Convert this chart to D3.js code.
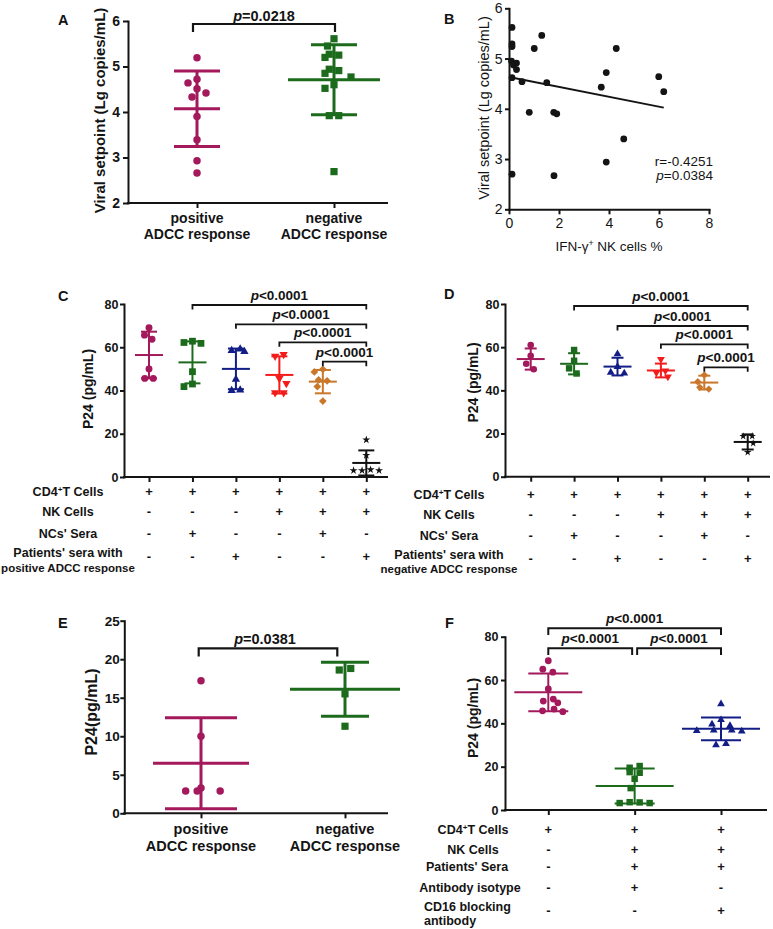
<!DOCTYPE html>
<html><head><meta charset="utf-8">
<script src="https://cdn.jsdelivr.net/npm/d3@7"></script>
<style>body{margin:0;background:#fff}</style>
</head><body>
<script>
// ================= DATA =================
// Panel A
const aCategories = ["positive", "negative"];
const aCategoryLines = [["positive", "ADCC response"], ["negative", "ADCC response"]];
const aPositive = [5.19, 4.72, 4.64, 4.51, 4.42, 4.33, 3.90, 3.39, 2.93, 2.66];
const aNegative = [5.61, 5.45, 5.27, 5.25, 5.20, 4.94, 4.91, 4.85, 4.77, 4.60, 4.52, 3.92, 3.92, 2.69];
const aMeans = [4.07, 4.71];
const aSDs = [0.83, 0.77];
const aTicks = [2, 3, 4, 5, 6];
const aPText = "=0.0218";
const aYTitle = "Viral setpoint (Lg copies/mL)";

// Panel B
const bX = [0.12, 0.12, 0.12, 0.10, 0.30, 0.18, 0.30, 0.12, 0.52, 1.31, 1.01, 1.51, 0.81, 1.79, 1.91, 0.12, 1.80, 3.69, 3.89, 4.29, 4.59, 3.89, 5.99, 6.19];
const bY = [5.62, 5.29, 5.24, 4.95, 4.91, 4.87, 4.78, 4.62, 4.54, 5.46, 5.20, 4.52, 3.93, 3.93, 3.90, 2.70, 2.67, 4.43, 4.72, 5.20, 3.40, 2.94, 4.64, 4.34];
const bXTicks = [0, 2, 4, 6, 8];
const bYTicks = [2, 3, 4, 5, 6];
const bRText = "r=-0.4251";
const bPText = "=0.0384";
const bXTitle = "IFN-γ{+} NK cells %";

// Panels C and D
const cdCategories = ["g1", "g2", "g3", "g4", "g5", "g6"];
const cValues = [
  [69.0, 65.6, 63.7, 49.9, 45.6, 45.6],
  [62.8, 62.2, 61.8, 48.7, 43.0, 41.8],
  [59.2, 58.5, 58.0, 45.2, 40.2, 40.0],
  [56.7, 55.9, 45.6, 43.3, 39.0, 39.0],
  [49.8, 48.6, 44.9, 44.5, 41.8, 35.1],
  [17.2, 10.0, 3.0, 3.0, 3.0, 3.4]
];
const cMeans = [56.4, 53.0, 50.0, 47.2, 44.1, 6.5];
const cSDs = [10.8, 9.7, 9.4, 8.6, 5.4, 5.8];
const dValues = [
  [61.0, 56.0, 52.3, 49.8],
  [58.7, 53.7, 50.2, 47.8],
  [56.8, 51.0, 48.3, 47.9],
  [54.4, 49.1, 48.2, 46.3],
  [47.1, 44.0, 41.4, 40.6],
  [18.8, 18.7, 15.5, 11.3]
];
const dMeans = [54.5, 52.3, 51.0, 49.2, 43.6, 16.1];
const dSDs = [4.9, 4.9, 4.1, 3.2, 3.2, 3.5];
const cdTicks = [0, 20, 40, 60, 80];
const cdBrackets = [[1, 5], [2, 5], [3, 5], [4, 5]];
const cdPText = "<0.0001";
const cdYTitle = "P24 (pg/mL)";
const cRows = ["CD4{+}T Cells", "NK Cells", "NCs' Sera", "Patients' sera with\npositive ADCC response"];
const dRows = ["CD4{+}T Cells", "NK Cells", "NCs' Sera", "Patients' sera with\nnegative ADCC response"];
const cdSigns = [
  ["+", "+", "+", "+", "+", "+"],
  ["-", "-", "-", "+", "+", "+"],
  ["-", "+", "-", "-", "+", "-"],
  ["-", "-", "+", "-", "-", "+"]
];

// Panel E
const eCategories = ["positive", "negative"];
const eCategoryLines = [["positive", "ADCC response"], ["negative", "ADCC response"]];
const ePositive = [17.2, 10.0, 2.9, 2.9, 2.9, 3.3];
const eNegative = [18.8, 18.6, 15.5, 11.3];
const eMeans = [6.5, 16.1];
const eSDs = [5.9, 3.5];
const eTicks = [0, 5, 10, 15, 20, 25];
const ePText = "=0.0381";
const eYTitle = "P24(pg/mL)";

// Panel F
const fCategories = ["f1", "f2", "f3"];
const fValues = [
  [68.9, 65.0, 63.6, 55.9, 51.2, 50.3, 49.5, 46.6, 45.8, 45.4],
  [20.3, 19.5, 17.5, 17.2, 14.4, 10.1, 3.6, 3.5, 3.2, 3.2],
  [48.9, 41.6, 39.6, 38.9, 36.8, 36.8, 36.6, 36.4, 30.6, 30.0]
];
const fMeans = [54.3, 11.1, 37.5];
const fSDs = [8.7, 8.1, 5.25];
const fTicks = [0, 20, 40, 60, 80];
const fBrackets = [[0, 2], [0, 1], [1, 2]];
const fPText = "<0.0001";
const fYTitle = "P24 (pg/mL)";
const fRows = ["CD4{+}T Cells", "NK Cells", "Patients' Sera", "Antibody isotype", "CD16 blocking\nantibody"];
const fSigns = [
  ["+", "+", "+"],
  ["-", "+", "+"],
  ["-", "+", "+"],
  ["-", "+", "-"],
  ["-", "-", "+"]
];

// ================= STYLE / HELPERS =================
const FONT = "Arial, 'Liberation Sans', Helvetica, sans-serif";
const INK = "#141414";
const MAROON = "#a3195b", GREEN = "#1c6b1c", NAVY = "#121d86", RED = "#f41b1b", ORANGE = "#c9772a", BLACK = "#111111";
const intFmt = d3.format("d");

const svg = d3.select("body").append("svg")
  .attr("width", 773).attr("height", 929)
  .style("font-family", FONT).style("background", "#fff");

const SHAPES = {
  circle: [d3.symbolCircle, 0], square: [d3.symbolSquare, 0], tri: [d3.symbolTriangle, 0],
  triDown: [d3.symbolTriangle, 180], diamond: [d3.symbolSquare, 45], star: [d3.symbolStar, 0]
};

function rich(textSel, str, fs) {
  str.split(/(\{[^}]*\})/).filter(s => s).forEach(p => {
    if (p.startsWith("{")) textSel.append("tspan").attr("baseline-shift", "super").attr("font-size", fs * 0.65).text(p.slice(1, -1));
    else textSel.append("tspan").text(p);
  });
}

function yAxis(g, y, x0, ticks, o) {
  const ax = d3.axisLeft(y).tickValues(ticks).tickFormat(intFmt).tickSize(o.tick).tickSizeOuter(0).tickPadding(o.pad);
  const a = g.append("g").attr("transform", `translate(${x0},0)`).call(ax);
  a.select(".domain").attr("stroke", INK).attr("stroke-width", o.sw).attr("stroke-linecap", "square");
  a.selectAll(".tick line").attr("stroke", INK).attr("stroke-width", o.sw);
  a.selectAll(".tick text").attr("font-size", o.fs).attr("font-weight", o.fw).attr("fill", INK).attr("font-family", FONT);
}

function xAxisCat(g, x, y0, xStart, xEnd, sw, tick) {
  const ax = d3.axisBottom(x).tickSize(tick).tickFormat("");
  const a = g.append("g").attr("transform", `translate(0,${y0})`).call(ax);
  a.select(".domain").remove();
  a.selectAll(".tick line").attr("stroke", INK).attr("stroke-width", sw);
  g.append("line").attr("x1", xStart).attr("x2", xEnd).attr("y1", y0).attr("y2", y0)
    .attr("stroke", INK).attr("stroke-width", sw);
}

function swarm(values, y, diam) {
  const pts = values.map(v => ({ v, py: y(v), dx: 0 }));
  const order = pts.slice().sort((a, b) => b.v - a.v);
  const placed = [];
  let side = -1;
  for (const p of order) {
    let found = null;
    for (let m = 0; found === null && m < 200; m += 0.5) {
      const cands = m === 0 ? [0] : [side * m, -side * m];
      for (const dx of cands) {
        if (placed.every(q => Math.hypot(q.dx - dx, q.py - p.py) >= diam - 0.01)) { found = dx; break; }
      }
    }
    p.dx = found;
    if (found !== 0) side = -Math.sign(found);
    placed.push(p);
  }
  const byY = pts.slice().sort((a, b) => a.py - b.py);
  let i = 0;
  while (i < byY.length) {
    let j = i + 1;
    while (j < byY.length && byY[j].py - byY[i].py < 2.5) j++;
    if (j - i >= 2) {
      const row = byY.slice(i, j);
      const m = d3.mean(row, r => r.dx);
      row.forEach(r => r.dx -= m);
    }
    i = j;
  }
  return pts;
}

function markers(g, cx, y, values, shape, color, area, diam) {
  const pts = swarm(values, y, diam);
  const [type, rot] = SHAPES[shape];
  const sym = d3.symbol().type(type).size(area);
  g.selectAll(null).data(pts).join("path")
    .attr("d", sym)
    .attr("transform", d => `translate(${cx + d.dx},${d.py}) rotate(${rot})`)
    .attr("fill", color);
}

function errorBar(g, cx, y, mean, sd, color, meanHalf, capHalf, sw) {
  const top = y(mean + sd), bot = y(Math.max(mean - sd, y.domain()[0]));
  const ln = (x1, x2, y1, y2) => g.append("line").attr("x1", x1).attr("x2", x2).attr("y1", y1).attr("y2", y2)
    .attr("stroke", color).attr("stroke-width", sw);
  ln(cx, cx, top, bot);
  ln(cx - capHalf, cx + capHalf, top, top);
  ln(cx - capHalf, cx + capHalf, bot, bot);
  ln(cx - meanHalf, cx + meanHalf, y(mean), y(mean));
}

function pText(g, cx, baseline, rest, fs, fw) {
  const t = g.append("text").attr("x", cx).attr("y", baseline).attr("text-anchor", "middle")
    .attr("font-size", fs).attr("font-weight", fw).attr("fill", INK);
  t.append("tspan").attr("font-style", "italic").text("p");
  t.append("tspan").text(rest);
}

function bracket(g, x1, x2, yb, drop, sw) {
  g.append("path").attr("d", `M${x1},${yb + drop}V${yb}H${x2}V${yb + drop}`)
    .attr("fill", "none").attr("stroke", INK).attr("stroke-width", sw);
}

function yTitle(g, str, x, y, fs, fw) {
  g.append("text").attr("transform", `translate(${x},${y}) rotate(-90)`).attr("text-anchor", "middle")
    .attr("font-size", fs).attr("font-weight", fw).attr("fill", INK).text(str);
}

function catLabels(g, x, cats, lines, baseline, gap, fs) {
  cats.forEach((c, i) => {
    lines[i].forEach((ln, k) => {
      g.append("text").attr("x", x(c)).attr("y", baseline + k * gap).attr("text-anchor", "middle")
        .attr("font-size", fs).attr("font-weight", "bold").attr("fill", INK).text(ln);
    });
  });
}

function table(g, x, cats, rows, signs, rowYs, labelX, anchors, fsL, fsS, fsL2) {
  rows.forEach((r, i) => {
    const lines = r.split("\n");
    lines.forEach((ln, k) => {
      const cy = lines.length > 1 ? rowYs[i] - 3.8 + k * 14.5 : rowYs[i];
      const fs = k > 0 ? fsL2 : fsL;
      const t = g.append("text").attr("x", labelX[i]).attr("y", cy + fs * 0.36)
        .attr("text-anchor", anchors[i]).attr("font-size", fs).attr("font-weight", "bold").attr("fill", INK);
      rich(t, ln, fs);
    });
    cats.forEach((c, j) => {
      g.append("text").attr("x", x(c)).attr("y", rowYs[i] + fsS * 0.36).attr("text-anchor", "middle")
        .attr("font-size", fsS).attr("font-weight", "bold").attr("fill", INK).text(signs[i][j]);
    });
  });
}

// Panel letters
[["A", 58, 25], ["B", 444, 24], ["C", 58, 301], ["D", 444, 299], ["E", 58, 628], ["F", 445, 628]].forEach(([t, x, y]) => {
  svg.append("text").attr("x", x).attr("y", y).attr("font-size", 14.5).attr("font-weight", "bold").attr("fill", INK).text(t);
});

// ================= PANEL A =================
{
  const g = svg.append("g");
  const y = d3.scaleLinear().domain([2, 6]).range([203, 21]);
  const x = d3.scalePoint().domain(aCategories).range([197, 334]);
  const colors = [MAROON, GREEN];
  const shapes = ["circle", "square"];
  const vals = [aPositive, aNegative];
  const meanHalf = [23, 46], capHalf = [23, 23];
  aCategories.forEach((c, i) => {
    errorBar(g, x(c), y, aMeans[i], aSDs[i], colors[i], meanHalf[i], capHalf[i], 3);
    markers(g, x(c), y, vals[i], shapes[i], colors[i], shapes[i] === "circle" ? 44 : 52, 9.5);
  });
  yAxis(g, y, 128, aTicks, { tick: 5, pad: 3, fs: 14, fw: "bold", sw: 2 });
  xAxisCat(g, x, 203, 127, 388, 2, 5);
  catLabels(g, x, aCategories, aCategoryLines, 222.5, 16, 14);
  bracket(g, x(aCategories[0]) - 4, x(aCategories[1]) + 1, 24, 8, 2.2);
  pText(g, 264, 20.5, aPText, 14.5, "bold");
  yTitle(g, aYTitle, 105, 110.5, 15, "bold");
}

// ================= PANEL B =================
{
  const g = svg.append("g");
  const x = d3.scaleLinear().domain([0, 8]).range([509, 709]);
  const y = d3.scaleLinear().domain([2, 6]).range([209.3, 8.3]);
  const ax = g.append("g").attr("transform", "translate(509,0)")
    .call(d3.axisLeft(y).tickValues(bYTicks).tickFormat(intFmt).tickSize(4).tickSizeOuter(0).tickPadding(2.5));
  const bx = g.append("g").attr("transform", "translate(0,209.3)")
    .call(d3.axisBottom(x).tickValues(bXTicks).tickFormat(intFmt).tickSize(5).tickSizeOuter(0).tickPadding(4));
  [ax, bx].forEach(a => {
    a.select(".domain").attr("stroke", INK).attr("stroke-width", 2).attr("stroke-linecap", "square");
    a.selectAll(".tick line").attr("stroke", INK).attr("stroke-width", 2);
    a.selectAll(".tick text").attr("font-size", 14).attr("fill", INK).attr("font-family", FONT);
  });
  // regression line (least squares on the data)
  const mx = d3.mean(bX), my = d3.mean(bY);
  const sxy = d3.sum(bX, (v, i) => (v - mx) * (bY[i] - my));
  const sxx = d3.sum(bX, v => (v - mx) * (v - mx));
  const slope = sxy / sxx, icpt = my - slope * mx;
  const [x0, x1] = d3.extent(bX);
  g.append("line").attr("x1", x(x0)).attr("x2", x(x1)).attr("y1", y(icpt + slope * x0)).attr("y2", y(icpt + slope * x1))
    .attr("stroke", INK).attr("stroke-width", 1.8);
  g.selectAll(null).data(bX).join("circle")
    .attr("cx", d => x(d)).attr("cy", (d, i) => y(bY[i])).attr("r", 3.4).attr("fill", INK);
  g.append("text").attr("x", 713).attr("y", 165.7).attr("text-anchor", "end").attr("font-size", 13.5).attr("fill", INK).text(bRText);
  const t = g.append("text").attr("x", 713).attr("y", 180).attr("text-anchor", "end").attr("font-size", 13.5).attr("fill", INK);
  t.append("tspan").attr("font-style", "italic").text("p");
  t.append("tspan").text(bPText);
  yTitle(g, aYTitle, 488.5, 108, 14.5, "normal");
  const xt = g.append("text").attr("x", 609).attr("y", 251).attr("text-anchor", "middle").attr("font-size", 13.5).attr("fill", INK);
  rich(xt, bXTitle, 13.5);
}

// ================= PANELS C & D =================
function panelCD(opt) {
  const g = svg.append("g");
  const y = d3.scaleLinear().domain([0, 80]).range([opt.y0, 304]);
  const x = d3.scalePoint().domain(cdCategories).range(opt.xr);
  const colors = [MAROON, GREEN, NAVY, RED, ORANGE, BLACK];
  const shapes = ["circle", "square", "tri", "triDown", "diamond", "star"];
  const areas = { circle: opt.ms * 38, square: opt.ms * 46, tri: opt.ms * 30, triDown: opt.ms * 30, diamond: opt.ms * 30, star: opt.ms * 20 };
  cdCategories.forEach((c, i) => {
    errorBar(g, x(c), y, opt.means[i], opt.sds[i], colors[i], 14, opt.cap, 2);
    markers(g, x(c), y, opt.values[i], shapes[i], colors[i], areas[shapes[i]], opt.diam);
  });
  yAxis(g, y, opt.ax, cdTicks, { tick: 4, pad: 1.5, fs: 12.5, fw: "bold", sw: 2 });
  xAxisCat(g, x, opt.y0, opt.ax - 1, opt.xEnd, 2, 5);
  cdBrackets.forEach(([a, b], k) => {
    const x1 = x(cdCategories[a]), x2 = x(cdCategories[b]);
    bracket(g, x1, x2, opt.by[k], 4.5, 1.8);
    pText(g, (x1 + x2) / 2, opt.by[k] - 5, cdPText, 13.5, "bold");
  });
  yTitle(g, cdYTitle, opt.titleX, opt.titleY, 14, "bold");
  table(g, x, cdCategories, opt.rows, cdSigns, opt.rowYs, opt.rows.map(() => opt.labelX), opt.rows.map(() => "middle"), 12.5, 13, 11.5);
}
panelCD({ y0: 477, xr: [149, 366.3], ax: 124, xEnd: 388, values: cValues, means: cMeans, sds: cSDs,
  by: [305, 324.3, 342.3, 361.7], titleX: 92.5, titleY: 389, rows: cRows, rowYs: [491.7, 511.5, 533.3, 556.7],
  labelX: 68, cap: 8, ms: 1, diam: 8.5 });
panelCD({ y0: 476.7, xr: [530.7, 747.7], ax: 505, xEnd: 770, values: dValues, means: dMeans, sds: dSDs,
  by: [306, 326, 344.3, 367.3], titleX: 478, titleY: 382.5, rows: dRows, rowYs: [494, 514, 535.7, 558],
  labelX: 449, cap: 6, ms: 0.9, diam: 9 });

// ================= PANEL E =================
{
  const g = svg.append("g");
  const y = d3.scaleLinear().domain([0, 25]).range([813.3, 620.7]);
  const x = d3.scalePoint().domain(eCategories).range([201, 345]);
  const colors = [MAROON, GREEN];
  const shapes = ["circle", "square"];
  const vals = [ePositive, eNegative];
  const meanHalf = [48, 55], capHalf = [36, 24];
  eCategories.forEach((c, i) => {
    errorBar(g, x(c), y, eMeans[i], eSDs[i], colors[i], meanHalf[i], capHalf[i], 3);
    markers(g, x(c), y, vals[i], shapes[i], colors[i], shapes[i] === "circle" ? 44 : 52, 11.5);
  });
  yAxis(g, y, 124.3, eTicks, { tick: 4, pad: 0.5, fs: 13.5, fw: "bold", sw: 2 });
  xAxisCat(g, x, 813.3, 123.3, 388, 2, 5);
  catLabels(g, x, eCategories, eCategoryLines, 833.5, 17, 14.5);
  bracket(g, x(eCategories[0]) - 2.3, x(eCategories[1]) - 7.7, 648.3, 8.3, 2.2);
  pText(g, 265, 644, ePText, 14.5, "bold");
  yTitle(g, eYTitle, 96.5, 712, 16, "bold");
}

// ================= PANEL F =================
{
  const g = svg.append("g");
  const y = d3.scaleLinear().domain([0, 80]).range([810, 636.7]);
  const x = d3.scalePoint().domain(fCategories).range([548.3, 721]);
  const colors = [MAROON, GREEN, NAVY];
  const shapes = ["circle", "square", "tri"];
  const areas = [36, 42, 26];
  fCategories.forEach((c, i) => {
    errorBar(g, x(c), y, fMeans[i], fSDs[i], colors[i], i === 0 ? 34 : 39, 20, 2);
    markers(g, x(c), y, fValues[i], shapes[i], colors[i], areas[i], 10);
  });
  yAxis(g, y, 505, fTicks, { tick: 4, pad: 2.5, fs: 12.5, fw: "bold", sw: 2 });
  xAxisCat(g, x, 810, 504, 767, 2, 5);
  const levels = [628.3, 648.3, 648.3];
  fBrackets.forEach(([a, b], k) => {
    const shared = (idx) => fBrackets.some(([p, q], m) => m !== k && levels[m] === levels[k] && (p === idx || q === idx));
    const x1 = x(fCategories[a]) + (shared(a) ? 2.5 : 0);
    const x2 = x(fCategories[b]) - (shared(b) ? 2.5 : 0);
    bracket(g, x1, x2, levels[k], 6.7, 2);
    pText(g, (x1 + x2) / 2, levels[k] - 5.5, fPText, 13.5, "bold");
  });
  yTitle(g, fYTitle, 478, 718, 14, "bold");
  table(g, x, fCategories, fRows, fSigns, [829, 849, 866.7, 887.3, 910],
    [473, 473, 467, 470, 424], ["middle", "middle", "middle", "middle", "start"], 12.5, 13, 12.5);
}
</script>
</body></html>
